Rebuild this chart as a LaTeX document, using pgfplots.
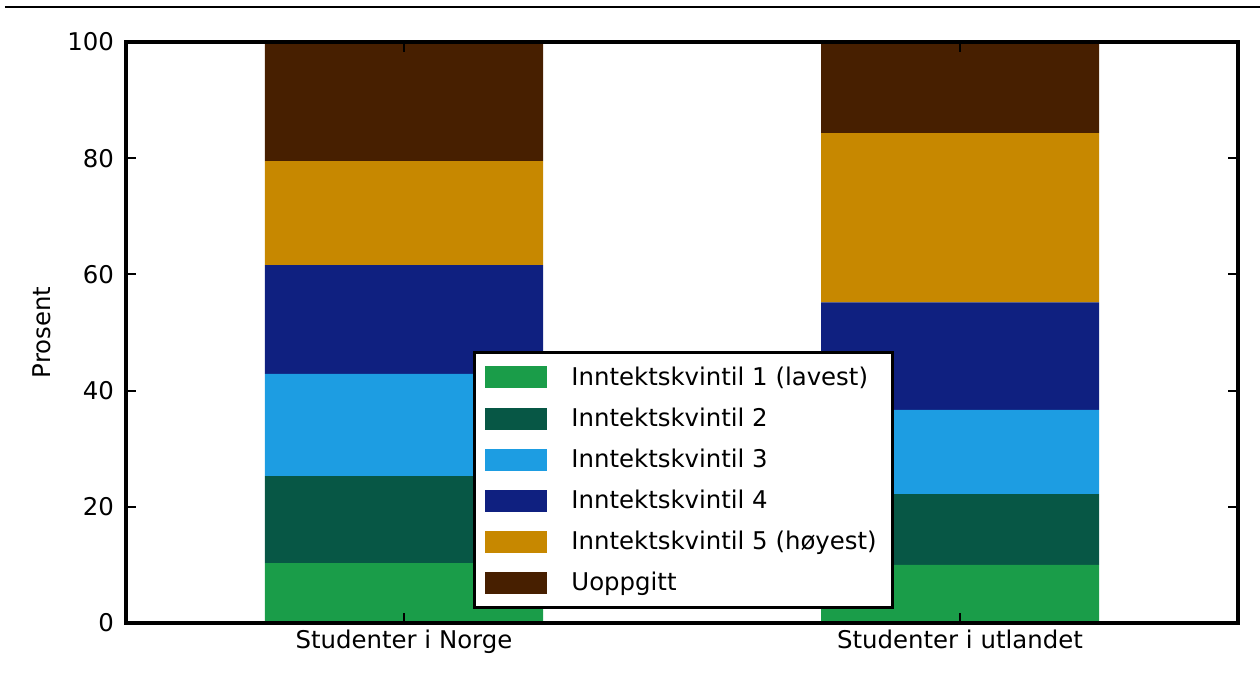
\documentclass[border=0pt]{standalone}
\usepackage{fontspec}
\setmainfont{DejaVu Sans}
\usepackage{pgfplots}
\pgfplotsset{compat=1.18}
\definecolor{c1}{HTML}{1A9D49}
\definecolor{c2}{HTML}{075745}
\definecolor{c3}{HTML}{1D9DE2}
\definecolor{c4}{HTML}{0F2080}
\definecolor{c5}{HTML}{C78800}
\definecolor{c6}{HTML}{471F00}
\begin{document}
\begin{tikzpicture}[font=\fontsize{12.2}{14.6}\selectfont]
\useasboundingbox (-63pt,-29.5pt) rectangle (567pt,311.5pt);
\draw[line width=1.3pt] (-60.5pt,308pt) -- (567pt,308pt);
\begin{axis}[
  at={(0,0)}, anchor=south west,
  scale only axis, width=556pt, height=290.5pt,
  ybar stacked, bar width=0.5,
  xmin=-0.5, xmax=1.5, ymin=0, ymax=100,
  xtick={0,1}, xticklabels={Studenter i Norge, Studenter i utlandet},
  ytick={0,20,...,100},
  tick align=inside, major tick length=5pt,
  tick style={line width=1pt, black},
  axis line style={line width=1.6pt},
  axis on top,
  /pgf/number format/assume math mode=true,
  yticklabel style={xshift=-2.5pt},
  ylabel={Prosent},
  ylabel style={at={(axis description cs:-0.0755,0.5)}, anchor=center},
  legend cell align=left,
  legend style={at={(0.312,0.468)}, anchor=north west, draw=black, line width=1.5pt,
    inner xsep=5.5pt, inner ysep=4.5pt, row sep=4.8pt, column sep=9.5pt,
    nodes={inner sep=2.5pt, line width=0.4pt}},
  legend image code/.code={\fill[#1, draw=none] (0pt,-5.5pt) rectangle (31pt,5.5pt);},
]
\addplot[fill=c1, draw=none] coordinates {(0,10.3) (1,10.0)};
\addplot[fill=c2, draw=none] coordinates {(0,15.0) (1,12.2)};
\addplot[fill=c3, draw=none] coordinates {(0,17.6) (1,14.5)};
\addplot[fill=c4, draw=none] coordinates {(0,18.7) (1,18.5)};
\addplot[fill=c5, draw=none] coordinates {(0,17.9) (1,29.1)};
\addplot[fill=c6, draw=none] coordinates {(0,20.5) (1,15.7)};
\legend{Inntektskvintil 1 (lavest), Inntektskvintil 2, Inntektskvintil 3, Inntektskvintil 4, Inntektskvintil 5 (høyest), Uoppgitt}
\end{axis}
\end{tikzpicture}
\end{document}
